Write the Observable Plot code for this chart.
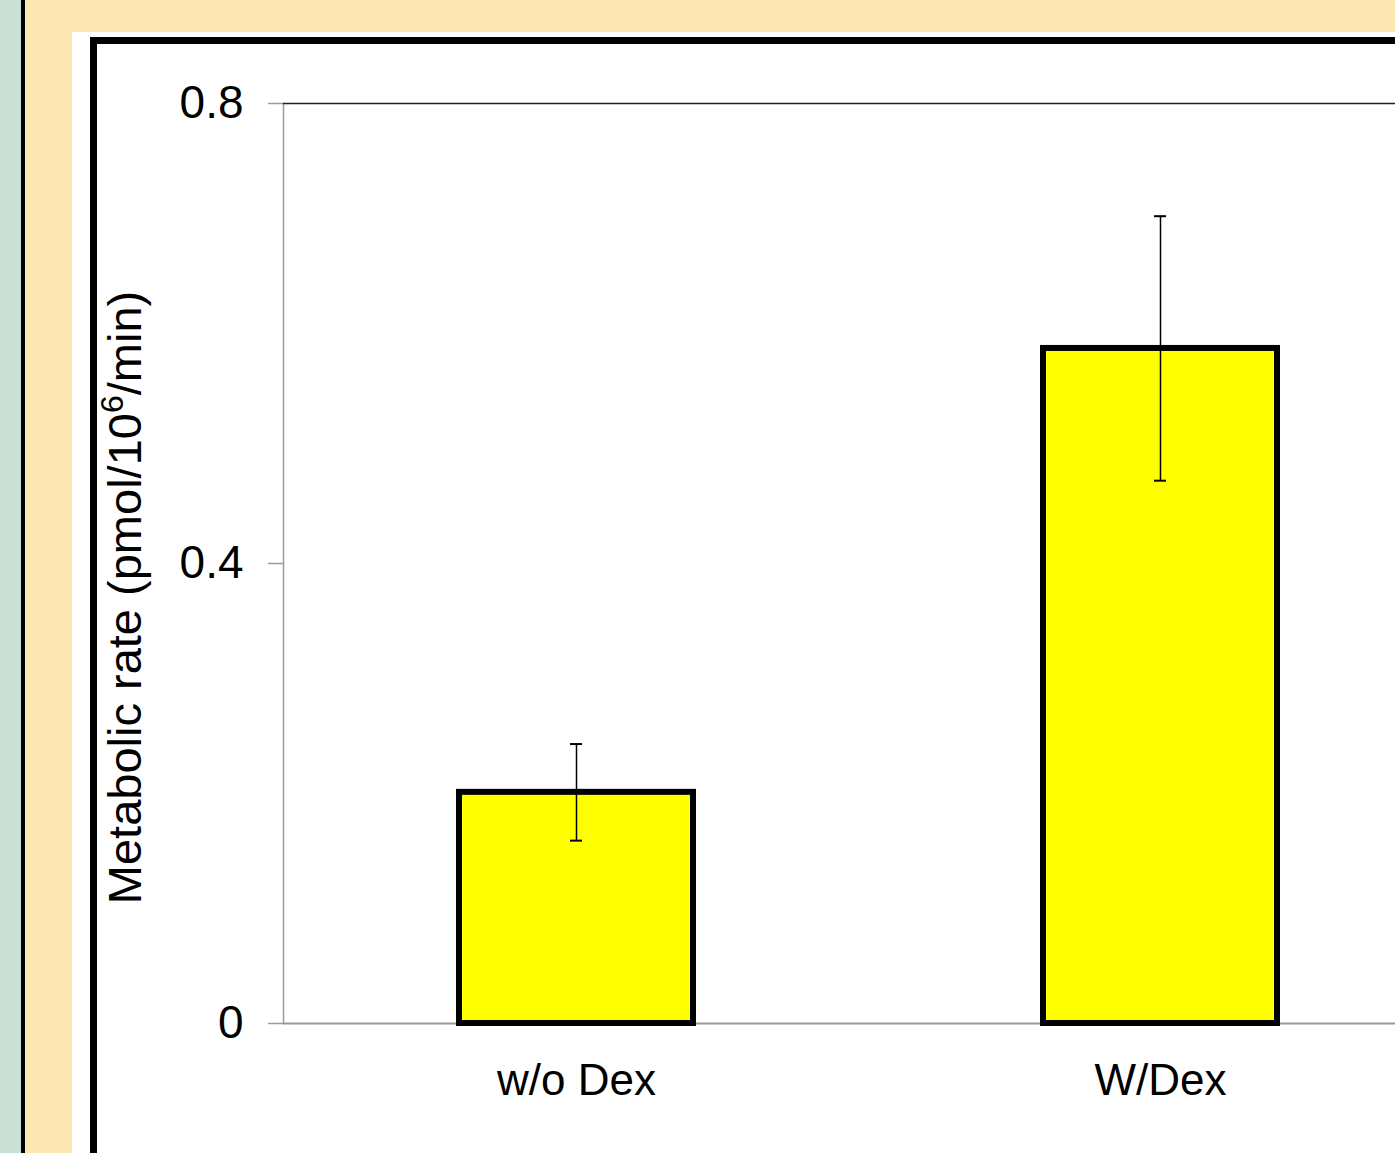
<!DOCTYPE html>
<html>
<head>
<meta charset="utf-8">
<script src="https://cdn.jsdelivr.net/npm/d3@7"></script>
<script src="https://cdn.jsdelivr.net/npm/@observablehq/plot@0.6"></script>
<style>
  html, body { margin: 0; padding: 0; overflow: hidden; background: #fde8b3; }
  #page { position: relative; width: 1395px; height: 1153px; overflow: hidden; background: #fde8b3; }
  #strip { position: absolute; left: 0; top: 0; width: 21px; height: 1153px; background: #cbe0d4; border-right: 4px solid #000; }
  #panel { position: absolute; left: 72px; top: 32px; right: 0; bottom: 0; background: #fff; }
  #frame { position: absolute; left: 90px; top: 37px; width: 1400px; height: 1200px; border-left: 7px solid #000; border-top: 7px solid #000; }
  #chart { position: absolute; left: 97px; top: 44px; width: 1355px; height: 1109px; }
  #chart svg { max-width: none !important; display: block; }
</style>
</head>
<body>
<div id="page">
  <div id="strip"></div>
  <div id="panel"></div>
  <div id="frame"></div>
  <div id="chart"></div>
</div>
<script>
// Metabolic rate with and without dexamethasone (mean ± error)
const conditions = ["w/o Dex", "W/Dex"];
const rates = [0.201, 0.587];
const errors = [0.042, 0.115];
const yTicks = [0, 0.4, 0.8];
const yTickLabels = ["0", "0.4", "0.8"];
// y-axis title: text before the exponent, the exponent, and the rest
const yTitleParts = ["Metabolic rate (pmol/10", "6", "/min)"];

const data = conditions.map((c, i) => ({condition: c, rate: rates[i], error: errors[i]}));

const chart = Plot.plot({
  width: 1355,
  height: 1109,
  marginLeft: 186,
  marginRight: 0,
  marginTop: 59,
  marginBottom: 130,
  style: {fontFamily: "Arial, 'Liberation Sans', sans-serif", color: "#000", background: "transparent", overflow: "visible", maxWidth: "none"},
  x: {domain: conditions, paddingInner: 0.6, paddingOuter: 0.3, axis: null},
  y: {domain: [0, 0.8], axis: null},
  marks: [
    Plot.frame({anchor: "left", stroke: "#9a9a9a", strokeWidth: 1.5}),
    Plot.ruleY([0.8], {stroke: "#222", strokeWidth: 1.5}),
    Plot.axisY(yTicks, {
      tickSize: 15, tickPadding: 25, stroke: "#9a9a9a", strokeWidth: 1.5,
      tickFormat: d => yTickLabels[yTicks.indexOf(d)],
      fontSize: 46, fill: "#000", label: null
    }),
    Plot.axisX({tickSize: 0, tickPadding: 40, fontSize: 44, fill: "#000", label: null}),
    Plot.ruleY([0], {stroke: "#9a9a9a", strokeWidth: 2}),
    Plot.barY(data, {x: "condition", y: "rate", fill: "#ffff00", stroke: "#000", strokeWidth: 6}),
    Plot.ruleX(data, {x: "condition", y1: d => d.rate - d.error, y2: d => d.rate + d.error, stroke: "#000", strokeWidth: 1.5}),
    Plot.tickY(data, {x: "condition", y: d => d.rate + d.error, insetLeft: 111, insetRight: 111, stroke: "#000", strokeWidth: 2}),
    Plot.tickY(data, {x: "condition", y: d => d.rate - d.error, insetLeft: 111, insetRight: 111, stroke: "#000", strokeWidth: 2}),
    Plot.text([yTitleParts.join("")], {frameAnchor: "left", textAnchor: "middle", rotate: -90, dx: -158, dy: 34, fontSize: 47, fill: "#000", className: "ytitle"})
  ]
});

// Rebuild the title with a raised exponent
d3.select(chart).selectAll(".ytitle text").each(function () {
  const t = d3.select(this).text("");
  t.append("tspan").text(yTitleParts[0]);
  t.append("tspan").attr("font-size", 32).attr("dy", -18).text(yTitleParts[1]);
  t.append("tspan").attr("dy", 18).text(yTitleParts[2]);
});

document.getElementById("chart").appendChild(chart);
</script>
</body>
</html>
